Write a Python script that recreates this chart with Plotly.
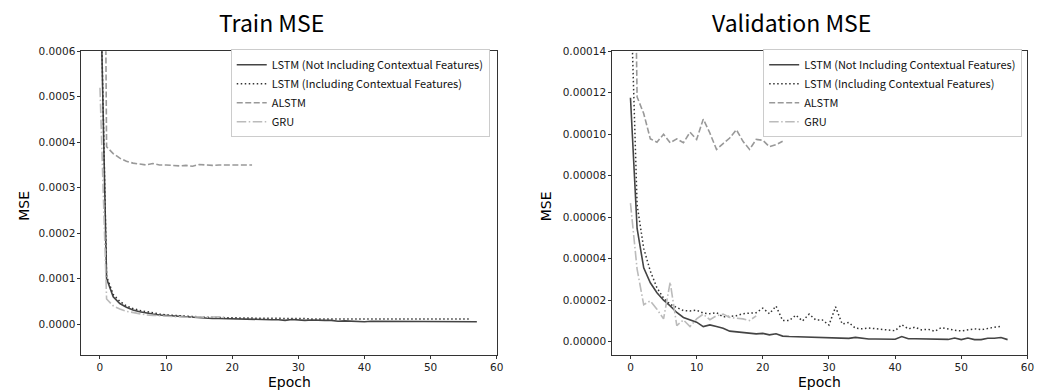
import plotly.graph_objects as go

# ---------------- data ----------------
train_lstm_no_ctx = [0.00080, 0.000100, 0.000060, 0.000045, 0.000037, 0.000031, 0.000027, 0.000024,
                     0.000022, 0.000020, 0.000019, 0.000017, 0.000016, 0.000015, 0.000014, 0.0000135,
                     0.000013, 0.000012, 0.000012, 0.0000115, 0.000011, 0.000011, 0.0000105, 0.000010,
                     0.000010, 0.000010, 0.0000095, 0.0000095, 0.000008, 0.000010, 0.000009, 0.000008,
                     0.000009, 0.000008, 0.000008, 0.000008, 0.000006, 0.000007, 0.000006, 0.000006,
                     0.000005, 0.000006, 0.000006, 0.000005, 0.000006, 0.000006, 0.000005, 0.000005,
                     0.000005, 0.000005, 0.000005, 0.000005, 0.000005, 0.000005, 0.000005, 0.000005,
                     0.000005, 0.000005]
train_lstm_ctx = [0.00082, 0.000105, 0.000065, 0.000050, 0.000040, 0.000034, 0.000030, 0.000027,
                  0.000024, 0.000022, 0.000020, 0.000019, 0.000018, 0.000017, 0.000016, 0.000016,
                  0.000015, 0.000015, 0.000014, 0.000014, 0.000014, 0.000013, 0.000013, 0.000013,
                  0.000013, 0.000012, 0.000012, 0.000012, 0.000012, 0.000012, 0.000012, 0.000012,
                  0.000011, 0.000011, 0.000011, 0.000011, 0.000011, 0.000011, 0.000011, 0.000011,
                  0.000011, 0.000011, 0.000011, 0.000010, 0.000010, 0.000010, 0.000010, 0.000010,
                  0.000010, 0.000010, 0.000010, 0.000010, 0.000010, 0.000010, 0.000010, 0.000010,
                  0.000011]
train_alstm = [0.00240, 0.000390, 0.000375, 0.000365, 0.000358, 0.000354, 0.000352, 0.000350,
               0.000353, 0.000350, 0.000350, 0.000349, 0.000348, 0.000349, 0.000347, 0.000351,
               0.000350, 0.000349, 0.000350, 0.000350, 0.000350, 0.000350, 0.000350, 0.000350]
train_gru = [0.00052, 0.000055, 0.000040, 0.000033, 0.000028, 0.000025, 0.000022, 0.000020,
             0.000019, 0.000018, 0.000017, 0.000016, 0.000016, 0.000015, 0.000015, 0.000016,
             0.000015, 0.000016, 0.000016, 0.000014]

val_lstm_no_ctx = [0.0001176, 0.0000546, 0.0000356, 0.0000284, 0.0000236, 0.0000200, 0.0000173,
                   0.0000141, 0.0000117, 0.0000105, 0.0000094, 0.0000073, 0.0000081, 0.0000073,
                   0.0000065, 0.0000051, 0.0000048, 0.0000044, 0.0000041, 0.0000038, 0.0000040,
                   0.0000033, 0.0000038, 0.0000027, 0.0000025, 0.0000024, 0.0000023, 0.0000022,
                   0.0000021, 0.0000020, 0.0000019, 0.0000018, 0.0000017, 0.0000016, 0.0000021,
                   0.0000017, 0.0000013, 0.0000013, 0.0000013, 0.0000012, 0.0000012, 0.0000025,
                   0.0000014, 0.0000014, 0.0000014, 0.0000012, 0.0000011, 0.0000011, 0.0000011,
                   0.0000018, 0.0000010, 0.0000018, 0.0000010, 0.0000010, 0.0000017, 0.0000017,
                   0.0000020, 0.0000010]
val_lstm_ctx = [0.000172, 0.000066, 0.000045, 0.000034, 0.000026, 0.000021, 0.000018, 0.0000165,
                0.000015, 0.0000148, 0.0000152, 0.0000138, 0.0000135, 0.000014, 0.000012, 0.0000122,
                0.0000125, 0.0000135, 0.0000138, 0.000014, 0.0000162, 0.0000135, 0.0000172, 0.0000102,
                0.0000102, 0.0000128, 0.000010, 0.0000133, 0.0000105, 0.0000105, 0.000008, 0.0000168,
                0.0000085, 0.0000093, 0.0000065, 0.0000062, 0.0000066, 0.0000063, 0.0000058, 0.0000055,
                0.0000053, 0.0000082, 0.0000062, 0.000007, 0.0000057, 0.000006, 0.000005, 0.0000068,
                0.000006, 0.0000055, 0.0000052, 0.0000058, 0.0000062, 0.0000058, 0.0000065, 0.000007,
                0.0000074]
val_alstm = [0.000340, 0.000118, 0.000110, 0.0000978, 0.0000962, 0.000100, 0.0000959, 0.0000978,
             0.0000959, 0.000101, 0.0000975, 0.0001073, 0.0001006, 0.0000927, 0.0000955, 0.0000982,
             0.0001022, 0.0000966, 0.0000927, 0.0000975, 0.0000971, 0.000094, 0.000095, 0.0000966]
val_gru = [0.0000668, 0.000035, 0.0000178, 0.0000197, 0.0000157, 0.000011, 0.0000287, 0.0000078,
           0.0000105, 0.0000073, 0.000011, 0.0000133, 0.0000106, 0.0000125, 0.0000133, 0.0000117,
           0.0000113, 0.000011, 0.0000102, 0.0000125]

series_names = ["LSTM (Not Including Contextual Features)", "LSTM (Including Contextual Features)",
                "ALSTM", "GRU"]
x_ticks = [0, 10, 20, 30, 40, 50, 60]
train_y_ticks = [0.0, 0.0001, 0.0002, 0.0003, 0.0004, 0.0005, 0.0006]
train_y_labels = ["0.0000", "0.0001", "0.0002", "0.0003", "0.0004", "0.0005", "0.0006"]
val_y_ticks = [0.0, 0.00002, 0.00004, 0.00006, 0.00008, 0.00010, 0.00012, 0.00014]
val_y_labels = ["0.00000", "0.00002", "0.00004", "0.00006", "0.00008", "0.00010", "0.00012", "0.00014"]

styles = [dict(color="#444444", width=1.6, dash="solid"),
          dict(color="#333333", width=1.5, dash="1.5px,2.5px"),
          dict(color="#999999", width=1.6, dash="6px,2.5px"),
          dict(color="#bbbbbb", width=1.6, dash="9.5px,2.5px,1.5px,2.5px")]

W, H = 1057, 391
fig = go.Figure()

train_sets = [train_lstm_no_ctx, train_lstm_ctx, train_alstm, train_gru]
val_sets = [val_lstm_no_ctx, val_lstm_ctx, val_alstm, val_gru]

for name, ys, st in zip(series_names, train_sets, styles):
    fig.add_trace(go.Scatter(x=list(range(len(ys))), y=ys, mode="lines", name=name,
                             line=st, xaxis="x", yaxis="y", legend="legend"))
for name, ys, st in zip(series_names, val_sets, styles):
    fig.add_trace(go.Scatter(x=list(range(len(ys))), y=ys, mode="lines", name=name,
                             line=st, xaxis="x2", yaxis="y2", legend="legend2"))

tick_font = dict(family="DejaVu Sans", size=10.5, color="#222222")
axis_common = dict(showline=True, linecolor="#333333", linewidth=1, mirror=True,
                   ticks="outside", ticklen=3, tickcolor="#333333", showgrid=False,
                   zeroline=False, tickfont=tick_font)

def px_x(p):
    return p / W

def px_y(p):
    return (H - p) / H

legend_font = dict(family="Noto Sans CJK KR", size=11, color="#111111")
fig.update_layout(
    width=W, height=H,
    margin=dict(l=0, r=0, t=0, b=0),
    paper_bgcolor="white", plot_bgcolor="white",
    xaxis=dict(domain=[px_x(82), px_x(500)], range=[-2.8, 60], tickvals=x_ticks,
               anchor="y", **axis_common),
    yaxis=dict(domain=[px_y(354), px_y(46)], range=[-0.0000672, 0.0006],
               tickvals=train_y_ticks, ticktext=train_y_labels, anchor="x", **axis_common),
    xaxis2=dict(domain=[px_x(616.3), px_x(1034.3)], range=[-2.76, 60], tickvals=x_ticks,
                anchor="y2", **axis_common),
    yaxis2=dict(domain=[px_y(354), px_y(46)], range=[-0.0000062, 0.00014],
                tickvals=val_y_ticks, ticktext=val_y_labels, anchor="x2", **axis_common),
    legend=dict(x=px_x(493), xanchor="right", y=px_y(44), yanchor="top",
                bgcolor="white", bordercolor="#cccccc", borderwidth=1,
                font=legend_font, itemwidth=30, tracegroupgap=0),
    legend2=dict(x=px_x(1029), xanchor="right", y=px_y(44), yanchor="top",
                 bgcolor="white", bordercolor="#cccccc", borderwidth=1,
                 font=legend_font, itemwidth=30, tracegroupgap=0),
    showlegend=True,
)

title_font = dict(family="Noto Sans CJK KR", size=23, color="#000000")
label_font = dict(family="DejaVu Sans", size=14, color="#000000")
annotations = [
    dict(text="Train MSE", x=px_x(273), y=px_y(16), xref="paper", yref="paper",
         xanchor="center", yanchor="middle", showarrow=False, font=title_font),
    dict(text="Validation MSE", x=px_x(797), y=px_y(16), xref="paper", yref="paper",
         xanchor="center", yanchor="middle", showarrow=False, font=title_font),
    dict(text="MSE", x=px_x(24), y=px_y(203), xref="paper", yref="paper", textangle=-90,
         xanchor="center", yanchor="middle", showarrow=False, font=label_font),
    dict(text="MSE", x=px_x(550), y=px_y(203), xref="paper", yref="paper", textangle=-90,
         xanchor="center", yanchor="middle", showarrow=False, font=label_font),
    dict(text="Epoch", x=px_x(291), y=0, xref="paper", yref="paper", borderpad=0,
         xanchor="center", yanchor="bottom", showarrow=False, font=label_font),
    dict(text="Epoch", x=px_x(825), y=0, xref="paper", yref="paper", borderpad=0,
         xanchor="center", yanchor="bottom", showarrow=False, font=label_font),
]
fig.update_layout(annotations=annotations)

fig.write_html("out.html", config={"displayModeBar": False},
               post_script="document.documentElement.style.margin='0';"
                           "document.body.style.margin='0';document.body.style.padding='0';")
